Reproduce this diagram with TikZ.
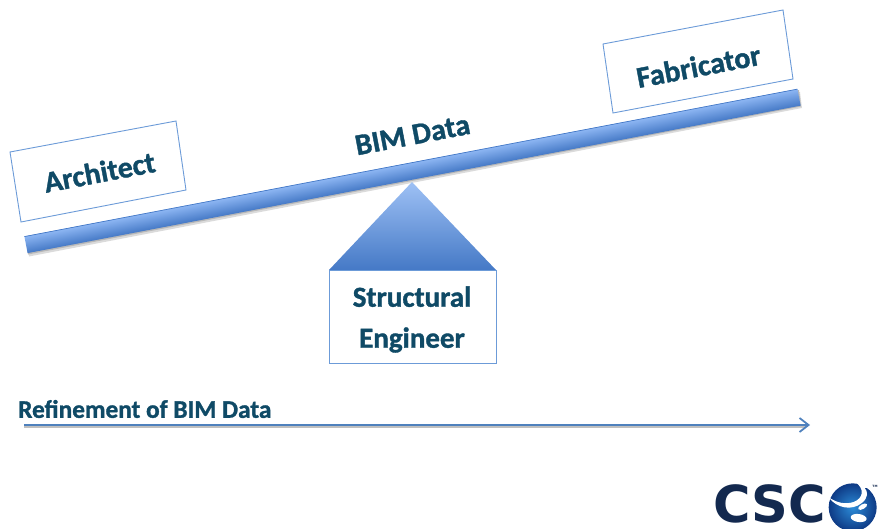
\documentclass[tikz,border=0pt]{standalone}
\usepackage{fontspec}
\setmainfont{Carlito}[BoldFeatures={FakeBold=1.2}]
\newfontfamily\logofont{DejaVu Sans}
\usetikzlibrary{arrows.meta}
\definecolor{ink}{HTML}{0F4A66}
\definecolor{edgeblue}{HTML}{6C9BD8}
\definecolor{barlight}{HTML}{8DB6F3}
\definecolor{bardark}{HTML}{4579C6}
\definecolor{arrowblue}{HTML}{4F81BD}
\definecolor{navy}{HTML}{13294F}
\definecolor{globeglow}{HTML}{2C8CD8}
\definecolor{globedeep}{HTML}{0E3A85}
\tikzset{
  x=1pt,y=-1pt,
  label box/.style={draw=edgeblue,line width=.9pt,fill=white},
  caption/.style={text=ink,font=\bfseries\fontsize{30}{36}\selectfont,inner sep=0pt,align=center},
}
\begin{document}
\begin{tikzpicture}
\useasboundingbox (0,0) rectangle (882,529);
% beam: soft shadow, then the shaded bar
\fill[black!14] (27,240) -- (800,92) -- (802,108) -- (29,256.5) -- cycle;
\fill[black!28] (26,238) -- (799,90) -- (801,106.5) -- (28,254.5) -- cycle;
\begin{scope}[transform canvas={shift={(412.5,171)},rotate=10.8}]
  \shade[top color=barlight,bottom color=bardark] (-393.5,-8.5) rectangle (393.5,8.5);
  \draw[bardark,line width=.7pt] (-393.5,-8.3) -- (393.5,-8.3);
\end{scope}
% label boxes
\draw[label box] (10,152) -- (176,121) -- (186,190) -- (21,222) -- cycle;
\draw[label box] (603,44) -- (783,10) -- (793,79) -- (613,113) -- cycle;
\node[caption,rotate=10.8] (architect) at (99.5,172) {Architect};
\node[caption,rotate=10.8] (fabricator) at (698.5,66) {Fabricator};
\node[caption,rotate=10.8] (bim) at (412.5,135) {BIM Data};
% fulcrum
\shade[top color=barlight!85!white,bottom color=bardark] (412,182) -- (496,270) -- (329,270) -- cycle;
\node[draw=edgeblue,line width=.9pt,fill=white,minimum width=167pt,minimum height=93pt,inner sep=0pt] (eng) at (412.5,316.5) {};
\node[caption,font=\bfseries\fontsize{29}{41}\selectfont] (englabel) at (412,319.5) {Structural\\Engineer};
% refinement arrow
\coordinate (a0) at (24,425);
\coordinate (a1) at (810,425);
\node[caption,anchor=west,font=\bfseries\fontsize{25.3}{30}\selectfont] (ref) at (18,409) {Refinement of BIM Data};
\draw[black!25,line width=1.5pt] (24,426.8) -- (806,426.8);
\draw[arrowblue,line width=2.6pt,-{Straight Barb[length=9pt,width=14pt,line width=1.8pt]}] (a0) -- (a1);
% logo
\node[anchor=base,inner sep=0pt,text=navy,font=\logofont\bfseries\fontsize{51}{51}\selectfont] (csc) at (769.5,522) {CSC};
\begin{scope}[shift={(822,478)},scale=1/3]
  \shade[inner color=globeglow,outer color=globedeep] (92,88) circle[radius=72];
  \fill[white] (100,12) .. controls (128,32) and (125,60) .. (95,72)
     .. controls (70,80) and (45,75) .. (20,58)
     .. controls (45,92) and (90,98) .. (118,76)
     .. controls (140,60) and (138,40) .. (128,30)
     .. controls (140,26) and (160,36) .. (168,56)
     .. controls (166,30) and (135,8) .. (100,12) -- cycle;
  \fill[white,rotate around={-8:(110,120)}] (110,120) ellipse[x radius=24,y radius=12];
  \fill[white,rotate around={30:(122,86)}] (122,86) ellipse[x radius=15,y radius=7];
  \node[inner sep=0pt,text=navy,font=\logofont\bfseries\fontsize{3}{3}\selectfont] (tm) at (159,26) {TM};
\end{scope}
\end{tikzpicture}
\end{document}
